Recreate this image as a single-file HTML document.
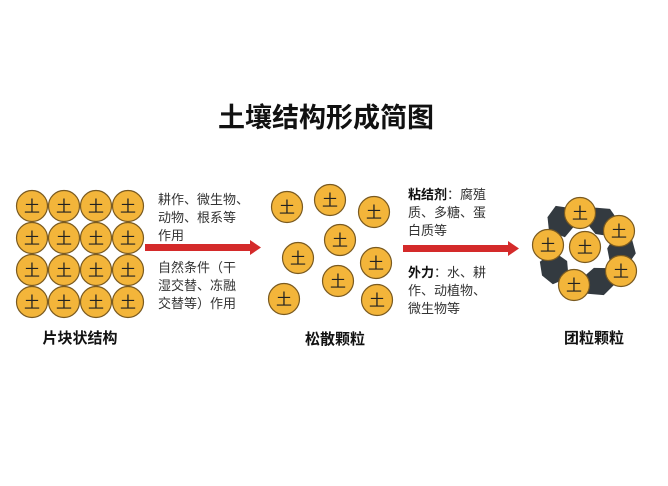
<!DOCTYPE html>
<html><head><meta charset="utf-8"><style>
body{margin:0;background:#fff;width:668px;height:481px;overflow:hidden;font-family:"Liberation Sans","Noto Sans CJK SC",sans-serif}
svg text{font-family:"Liberation Sans","Noto Sans CJK SC",sans-serif}
</style></head><body>
<svg width="668" height="481" viewBox="0 0 668 481">
<defs>
<g id="c"><circle r="15.5" fill="#f3b53a" stroke="#7a5a20" stroke-width="1.2"/><text y="6" text-anchor="middle" font-size="16" fill="#222">土</text></g>
<polygon id="h" points="-10,-13 7,-15 14,0 7,15 -10,13 -15,0" fill="#333a40"/>
</defs>
<text x="326" y="127" text-anchor="middle" font-size="27" font-weight="bold" fill="#111">土壤结构形成简图</text>
<g>
<use href="#c" x="32" y="206"/><use href="#c" x="64" y="206"/><use href="#c" x="96" y="206"/><use href="#c" x="128" y="206"/>
<use href="#c" x="32" y="238"/><use href="#c" x="64" y="238"/><use href="#c" x="96" y="238"/><use href="#c" x="128" y="238"/>
<use href="#c" x="32" y="270"/><use href="#c" x="64" y="270"/><use href="#c" x="96" y="270"/><use href="#c" x="128" y="270"/>
<use href="#c" x="32" y="302"/><use href="#c" x="64" y="302"/><use href="#c" x="96" y="302"/><use href="#c" x="128" y="302"/>
</g>
<text x="80" y="343" text-anchor="middle" font-size="15" font-weight="bold" fill="#111">片块状结构</text>
<g font-size="13" fill="#333">
<text x="158" y="204">耕作、微生物、</text>
<text x="158" y="222">动物、根系等</text>
<text x="158" y="240">作用</text>
<text x="158" y="272">自然条件（干</text>
<text x="158" y="290">湿交替、冻融</text>
<text x="158" y="308">交替等）作用</text>
</g>
<rect x="145" y="244" width="105" height="7" fill="#d42a2a"/>
<polygon points="250,240 261,247.5 250,255" fill="#d42a2a"/>
<use href="#c" x="287" y="207"/><use href="#c" x="330" y="200"/><use href="#c" x="374" y="212"/>
<use href="#c" x="340" y="240"/><use href="#c" x="298" y="258"/><use href="#c" x="376" y="263"/>
<use href="#c" x="338" y="281"/><use href="#c" x="284" y="299"/><use href="#c" x="377" y="300"/>
<text x="335" y="344" text-anchor="middle" font-size="15" font-weight="bold" fill="#111">松散颗粒</text>
<g font-size="13" fill="#333">
<text x="408" y="199"><tspan font-weight="bold" fill="#111">粘结剂</tspan>：腐殖</text>
<text x="408" y="217">质、多糖、蛋</text>
<text x="408" y="235">白质等</text>
<text x="408" y="277"><tspan font-weight="bold" fill="#111">外力</tspan>：水、耕</text>
<text x="408" y="295">作、动植物、</text>
<text x="408" y="313">微生物等</text>
</g>
<rect x="403" y="245" width="105" height="7" fill="#d42a2a"/>
<polygon points="508,241 519,248.5 508,256" fill="#d42a2a"/>
<use href="#h" transform="translate(562,221) rotate(15)"/>
<use href="#h" transform="translate(603,221) rotate(-60)"/>
<use href="#h" transform="translate(622,251) rotate(10)"/>
<use href="#h" transform="translate(555,268) rotate(-30)"/>
<use href="#h" transform="translate(599,282) rotate(70)"/>
<use href="#c" x="580" y="213"/><use href="#c" x="619" y="231"/><use href="#c" x="548" y="245"/>
<use href="#c" x="585" y="247"/><use href="#c" x="621" y="271"/><use href="#c" x="574" y="285"/>
<text x="594" y="343" text-anchor="middle" font-size="15" font-weight="bold" fill="#111">团粒颗粒</text>
</svg>
</body></html>
